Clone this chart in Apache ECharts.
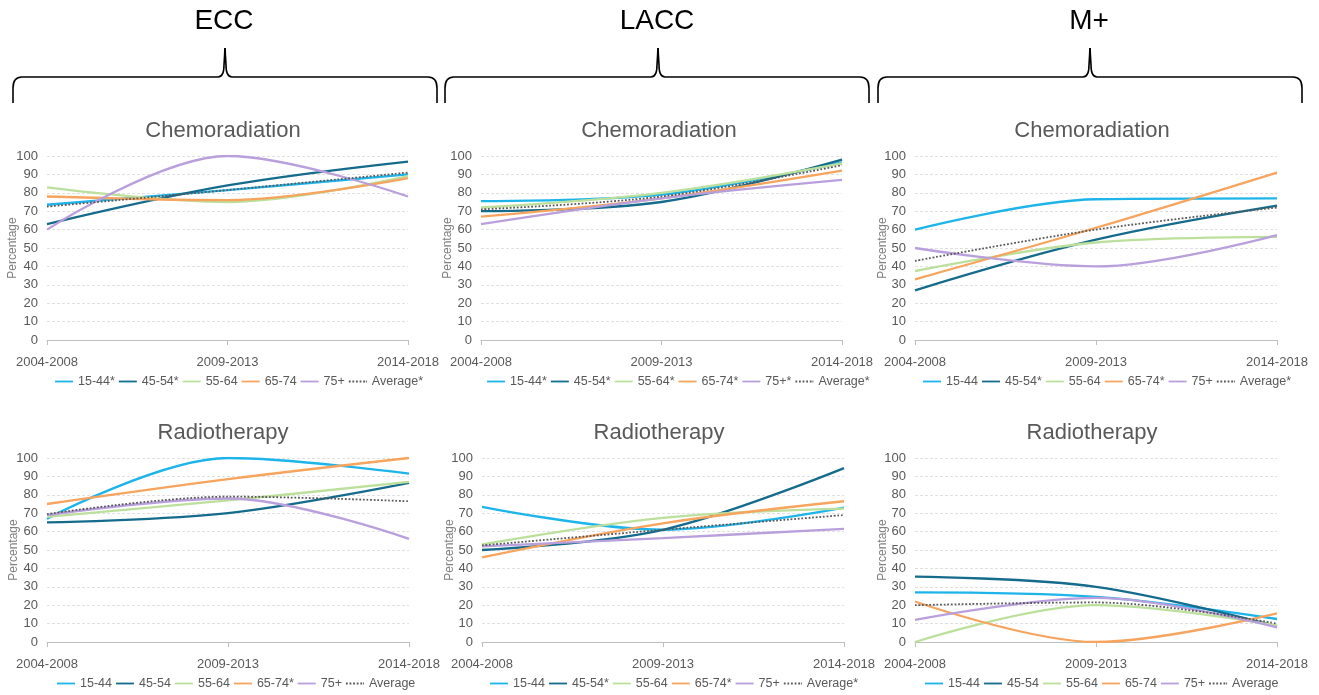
<!DOCTYPE html>
<html>
<head>
<meta charset="utf-8">
<script src="https://cdn.jsdelivr.net/npm/echarts@6/dist/echarts.min.js"></script>
<style>
  html, body { margin: 0; padding: 0; background: #fff; }
  #chart { width: 1319px; height: 695px; }
</style>
</head>
<body>
<div id="chart"></div>
<script>
// ---------- data ----------
const categories = ['2004-2008', '2009-2013', '2014-2018'];
const groupNames = ['ECC', 'LACC', 'M+'];
const panelTitles = ['Chemoradiation', 'Radiotherapy'];
const yAxisName = 'Percentage';

// series names (legend labels) per panel
const namesEccChemo  = ['15-44*', '45-54*', '55-64', '65-74', '75+', 'Average*'];
const namesLaccChemo = ['15-44*', '45-54*', '55-64*', '65-74*', '75+*', 'Average*'];
const namesMChemo    = ['15-44', '45-54*', '55-64', '65-74*', '75+', 'Average*'];
const namesEccRadio  = ['15-44', '45-54', '55-64', '65-74*', '75+', 'Average'];
const namesLaccRadio = ['15-44', '45-54*', '55-64', '65-74*', '75+', 'Average*'];
const namesMRadio    = ['15-44', '45-54', '55-64', '65-74', '75+', 'Average'];

// values per panel: rows = 15-44, 45-54, 55-64, 65-74, 75+, Average
const eccChemo  = [[73.5, 81.5, 90], [63, 84, 97], [83, 75, 89], [78, 76, 88], [60, 100, 78], [72.5, 81.5, 91]];
const laccChemo = [[75.5, 79, 96.5], [70, 75, 98], [72, 80, 96], [67, 77, 92], [63, 77, 87], [71, 78, 95]];
const mChemo    = [[60, 76.5, 77], [27, 54.5, 73], [37.5, 53, 56], [33, 61, 91], [50, 40, 57], [43, 60, 72]];
const eccRadio  = [[67, 100, 91.5], [65, 70, 86.5], [68, 77, 87], [75, 88.5, 100], [69, 78, 56], [69.5, 79, 76.5]];
const laccRadio = [[73.5, 61, 73], [50, 61, 94.5], [53, 67.5, 72.5], [46, 64.5, 76.5], [52, 56.5, 61.5], [52.5, 61, 69]];
const mRadio    = [[27, 24.5, 12.5], [35.5, 30, 8.5], [0, 20, 9], [22, 0, 15.5], [12, 24, 8], [20, 21.5, 10]];

// ---------- styles / layout ----------
const seriesColors = ['#1DB4EA', '#156B8B', '#BCE09C', '#F6A45E', '#B99FDC', '#595959'];
const panels = [
  { names: namesEccChemo,  values: eccChemo,  grid: { left: 47,  top: 156, width: 361, height: 184 }, legend: { left: 55,  top: 375 }, nameGap: 28 },
  { names: namesLaccChemo, values: laccChemo, grid: { left: 481, top: 156, width: 361, height: 184 }, legend: { left: 487, top: 375 }, nameGap: 27 },
  { names: namesMChemo,    values: mChemo,    grid: { left: 915, top: 156, width: 362, height: 184 }, legend: { left: 923, top: 375 }, nameGap: 26 },
  { names: namesEccRadio,  values: eccRadio,  grid: { left: 47,  top: 458, width: 362, height: 184 }, legend: { left: 57,  top: 677 }, nameGap: 27 },
  { names: namesLaccRadio, values: laccRadio, grid: { left: 482, top: 458, width: 362, height: 184 }, legend: { left: 490, top: 677 }, nameGap: 26 },
  { names: namesMRadio,    values: mRadio,    grid: { left: 915, top: 458, width: 362, height: 184 }, legend: { left: 925, top: 677 }, nameGap: 26 }
];
const FONT = '"Liberation Sans", Arial, sans-serif';
const colCenters = [223, 659, 1092];
const bracketSpans = [[13, 437, 225], [445, 869, 658], [878, 1302, 1090]];
const solidIcon = 'path://M0,0H20V2H0Z';
const dottedIcon = 'path://M0,0H2V2H0Z M4,0H6V2H4Z M8,0H10V2H8Z M12,0H14V2H12Z M16,0H18V2H16Z M19,0H20V2H19Z';

const grids = [], xAxes = [], yAxes = [], legends = [], series = [];
panels.forEach((p, pi) => {
  grids.push(Object.assign({ containLabel: false }, p.grid));
  xAxes.push({
    type: 'category', gridIndex: pi, data: categories, boundaryGap: false,
    axisLine: { lineStyle: { color: '#BFBFBF', width: 1 } },
    axisTick: { show: true, length: 5, lineStyle: { color: '#BFBFBF' } },
    axisLabel: { color: '#595959', fontSize: 13, fontFamily: FONT, margin: 16 },
    splitLine: { show: false }
  });
  yAxes.push({
    type: 'value', gridIndex: pi, min: 0, max: 100, interval: 10,
    name: yAxisName, nameLocation: 'middle', nameGap: p.nameGap, nameRotate: 90, nameMoveOverlap: false,
    nameTextStyle: { color: '#7F7F7F', fontSize: 12, fontFamily: FONT },
    axisLine: { show: false }, axisTick: { show: false },
    axisLabel: { color: '#595959', fontSize: 13, fontFamily: FONT, margin: 9 },
    splitLine: { show: true, lineStyle: { color: '#E0E0E0', type: [3, 2], width: 1 } }
  });
  legends.push({
    data: p.names.map((n, i) => ({ name: n, icon: i === 5 ? dottedIcon : solidIcon })),
    left: p.legend.left, top: p.legend.top, padding: 0,
    itemWidth: 18, itemHeight: 10, itemGap: 4, selectedMode: false,
    textStyle: { color: '#595959', fontSize: 12.5, fontFamily: FONT }
  });
  p.values.forEach((vals, si) => {
    const avg = si === 5;
    series.push({
      type: 'line', name: p.names[si], xAxisIndex: pi, yAxisIndex: pi,
      data: vals, smooth: 0.35, symbol: 'none', showSymbol: false,
      z: avg ? 3 : 2,
      itemStyle: { color: seriesColors[si] },
      lineStyle: { color: seriesColors[si], width: avg ? 1.8 : 2.3, type: avg ? 'dotted' : 'solid' },
      emphasis: { disabled: true }
    });
  });
});

// ---------- decorations (titles + braces) ----------
const graphic = [];
groupNames.forEach((g, i) => {
  graphic.push({ type: 'text', silent: true, style: { text: g, x: bracketSpans[i][2] - 1, y: 21, fill: '#000',
    font: '28px ' + FONT, textAlign: 'center', textVerticalAlign: 'middle', align: 'center', verticalAlign: 'middle' } });
  panelTitles.forEach((t, r) => {
    graphic.push({ type: 'text', silent: true, style: { text: t, x: colCenters[i], y: r === 0 ? 131 : 433, fill: '#595959',
      font: '22px ' + FONT, textAlign: 'center', textVerticalAlign: 'middle', align: 'center', verticalAlign: 'middle' } });
  });
  const [x0, x1, xm] = bracketSpans[i];
  const st = { stroke: '#000', lineWidth: 1.6, fill: 'none' };
  graphic.push(
    { type: 'line', silent: true, shape: { x1: x0, y1: 103, x2: x0, y2: 88 }, style: st },
    { type: 'bezierCurve', silent: true, shape: { x1: x0, y1: 88, cpx1: x0, cpy1: 77, x2: x0 + 9, y2: 77 }, style: st },
    { type: 'line', silent: true, shape: { x1: x0 + 9, y1: 77, x2: xm - 7, y2: 77 }, style: st },
    { type: 'bezierCurve', silent: true, shape: { x1: xm - 7, y1: 77, cpx1: xm - 1, cpy1: 77, x2: xm - 1, y2: 65 }, style: st },
    { type: 'line', silent: true, shape: { x1: xm - 1, y1: 65, x2: xm, y2: 48 }, style: st },
    { type: 'line', silent: true, shape: { x1: xm + 1, y1: 65, x2: xm, y2: 48 }, style: st },
    { type: 'bezierCurve', silent: true, shape: { x1: xm + 1, y1: 65, cpx1: xm + 1, cpy1: 77, x2: xm + 7, y2: 77 }, style: st },
    { type: 'line', silent: true, shape: { x1: xm + 7, y1: 77, x2: x1 - 9, y2: 77 }, style: st },
    { type: 'bezierCurve', silent: true, shape: { x1: x1 - 9, y1: 77, cpx1: x1, cpy1: 77, x2: x1, y2: 88 }, style: st },
    { type: 'line', silent: true, shape: { x1: x1, y1: 88, x2: x1, y2: 103 }, style: st }
  );
});

const chart = echarts.init(document.getElementById('chart'), null, { renderer: 'canvas' });
chart.setOption({
  animation: false,
  backgroundColor: '#fff',
  textStyle: { fontFamily: FONT },
  grid: grids, xAxis: xAxes, yAxis: yAxes, legend: legends, series: series,
  graphic: graphic
});
</script>
</body>
</html>
